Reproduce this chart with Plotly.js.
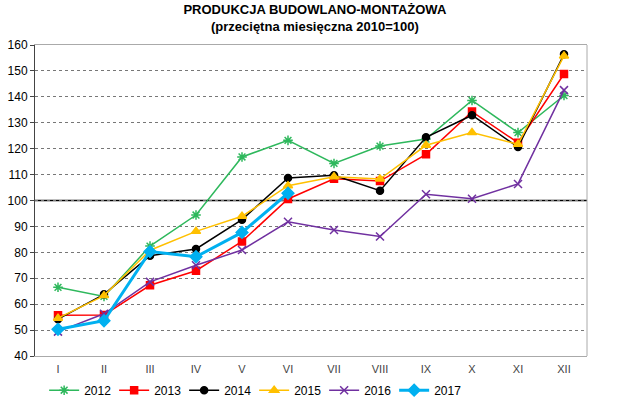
<!DOCTYPE html>
<html>
<head>
<meta charset="utf-8">
<script src="https://cdn.plot.ly/plotly-3.0.1.min.js"></script>
<style>body{margin:0;padding:0;background:#fff}#chart{width:640px;height:401px}</style>
</head>
<body>
<div id="chart"></div>
<script>
var months = ["I", "II", "III", "IV", "V", "VI", "VII", "VIII", "IX", "X", "XI", "XII"];

var y2012 = [66.5, 63, 82.4, 94.4, 116.8, 123.2, 114.3, 121, 123.7, 138.6, 126.2, 140.5];
var y2013 = [55.7, 55.8, 67.3, 72.9, 84.2, 100.6, 108.4, 107.5, 117.8, 134.3, 122.3, 148.8];
var y2014 = [54.2, 63.8, 78.7, 81.3, 92.6, 108.7, 109.7, 103.8, 124.4, 132.9, 120.6, 156.4];
var y2015 = [54.6, 63.3, 80.8, 88.1, 93.9, 105.7, 109.2, 108.3, 121.3, 126.2, 121.7, 155.8];
var y2016 = [49.4, 56.3, 68.6, 75, 80.9, 91.8, 88.6, 86.1, 102.4, 100.7, 106.4, 142.6];
var y2017 = [50.3, 53.6, 80.3, 78.3, 87.7, 102.8];

function series(name, y, color, symbol, size, width) {
    return {
        x: months.slice(0, y.length),
        y: y,
        name: name,
        type: 'scatter',
        mode: 'lines+markers',
        line: {color: color, width: width},
        marker: {symbol: symbol, size: size, color: color, line: {color: color, width: 1.5}}
    };
}

var data = [
    series('2012', y2012, '#2eb85c', 'asterisk-open', 8, 1.5),
    series('2013', y2013, '#ff0000', 'square', 7, 1.5),
    series('2014', y2014, '#000000', 'circle', 7, 1.5),
    series('2015', y2015, '#ffc000', 'triangle-up', 8, 1.5),
    series('2016', y2016, '#7030a0', 'x-thin-open', 8, 1.5),
    series('2017', y2017, '#00b0f0', 'diamond', 9, 3)
];

var layout = {
    width: 640,
    height: 401,
    margin: {l: 35, r: 53, t: 45, b: 45, autoexpand: false},
    paper_bgcolor: '#fff',
    plot_bgcolor: '#fff',
    font: {family: 'Liberation Sans, Arial, sans-serif', size: 12, color: '#000'},
    title: {
        text: '<b>PRODUKCJA BUDOWLANO-MONTAŻOWA</b><br><b>(przeciętna miesięczna 2010=100)</b>',
        font: {size: 13, color: '#000'},
        xref: 'container', x: 0.492, xanchor: 'center',
        yref: 'container', y: 0.965, yanchor: 'top'
    },
    xaxis: {
        type: 'category',
        range: [-0.5, 11.5],
        automargin: false,
        showgrid: false,
        showline: true, linecolor: '#aaa', linewidth: 1, mirror: true,
        ticks: '',
        ticklabelstandoff: 3,
        tickfont: {size: 11, color: '#444'}
    },
    yaxis: {
        range: [40, 160],
        dtick: 10,
        automargin: false,
        showgrid: true, gridcolor: '#777', griddash: 'dot', gridwidth: 1,
        zeroline: false,
        showline: true, linecolor: '#444', linewidth: 1,
        ticks: 'outside', ticklen: 4, tickcolor: '#444',
        tickfont: {size: 12, color: '#000'}
    },
    shapes: [
        {type: 'line', xref: 'paper', x0: 0, x1: 1, yref: 'y', y0: 100, y1: 100,
         line: {color: '#000', width: 1.3}, layer: 'below'},
        {type: 'line', xref: 'paper', x0: 1, x1: 1, yref: 'paper', y0: 0, y1: 1,
         line: {color: '#aaa', width: 1}}
    ],
    legend: {
        orientation: 'h',
        x: 0.397, xanchor: 'center',
        y: -0.11, yanchor: 'middle',
        bgcolor: 'rgba(0,0,0,0)',
        font: {size: 12, color: '#000'},
        entrywidth: 25,
        itemwidth: 30,
        tracegroupgap: 0
    },
    showlegend: true
};

Plotly.newPlot('chart', data, layout, {displayModeBar: false, staticPlot: true});
</script>
</body>
</html>
